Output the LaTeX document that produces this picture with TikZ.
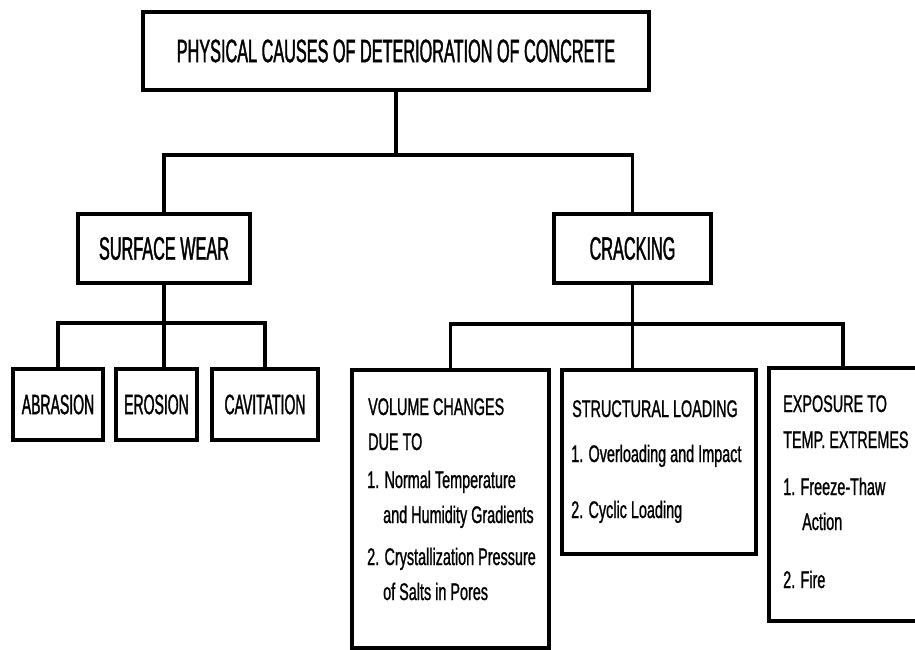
\documentclass[tikz,border=0pt]{standalone}
\usepackage{fontspec}
\setmainfont{Liberation Sans}
\newfontfamily\headfont[FakeStretch=0.5,FakeBold=1.2]{Liberation Sans}
\newfontfamily\smallfont[FakeStretch=0.5,FakeBold=1.2]{Liberation Sans}
\newfontfamily\bodyfont[FakeStretch=0.6,FakeBold=1.0]{Liberation Sans}
\begin{document}
\begin{tikzpicture}[x=1pt,y=-1pt,
  boxst/.style={draw, line width=3.2pt, inner sep=0pt, font=\headfont\fontsize{32.5}{38}\selectfont},
  smallbox/.style={boxst, font=\smallfont\fontsize{28}{33}\selectfont},
  conn/.style={line width=3.2pt},
  txt/.style={anchor=base west, inner sep=0pt, font=\bodyfont\fontsize{24}{29}\selectfont}]
\useasboundingbox (0,0) rectangle (915,649);
% boxes
\node[boxst, minimum width=506pt, minimum height=78pt] (title) at (396,51) {PHYSICAL CAUSES OF DETERIORATION OF CONCRETE};
\node[boxst, minimum width=172pt, minimum height=69pt] (sw) at (164,248.5) {SURFACE WEAR};
\node[boxst, minimum width=157pt, minimum height=69pt] (cr) at (632.5,248.5) {CRACKING};
\node[smallbox, minimum width=90pt, minimum height=71pt] (ab) at (58,404.5) {ABRASION};
\node[smallbox, minimum width=81pt, minimum height=71pt] (er) at (156.5,404.5) {EROSION};
\node[smallbox, minimum width=106pt, minimum height=71pt] (cav) at (265,404.5) {CAVITATION};
\node[boxst, minimum width=197pt, minimum height=278pt] (vol) at (450.5,509) {};
\node[boxst, minimum width=194pt, minimum height=184pt] (st) at (659,462) {};
\node[boxst, minimum width=148pt, minimum height=253pt] (ex) at (843,494.5) {};
% connectors
\coordinate (bus1) at (0,155);
\coordinate (bus2) at (0,323);
\coordinate (bus3) at (0,324);
\draw[conn] (title.south) -- (title.south |- bus1);
\draw[conn] (sw.north) |- (title.south |- bus1) -| (cr.north);
\draw[conn] (sw.south) -- (sw.south |- er.north);
\draw[conn] (ab.north) |- (sw.south |- bus2) -| (cav.north);
\draw[conn] (cr.south) -- (cr.south |- st.north);
\draw[conn] (vol.north) |- (cr.south |- bus3) -| (ex.north);
% texts: volume changes
\node[txt] (v1) at (368,415) {VOLUME CHANGES};
\node[txt] (v2) at (368,450) {DUE TO};
\node[txt] (v3) at (367,488) {1. Normal Temperature};
\node[txt] (v4) at (383,523) {and Humidity Gradients};
\node[txt] (v5) at (367,565) {2. Crystallization Pressure};
\node[txt] (v6) at (383,600) {of Salts in Pores};
% structural loading
\node[txt] (s1) at (572,417) {STRUCTURAL LOADING};
\node[txt] (s2) at (571,462) {1. Overloading and Impact};
\node[txt] (s3) at (571,518) {2. Cyclic Loading};
% exposure
\node[txt] (e1) at (783,412) {EXPOSURE TO};
\node[txt] (e2) at (783,448) {TEMP. EXTREMES};
\node[txt] (e3) at (783,495) {1. Freeze-Thaw};
\node[txt] (e4) at (802,530) {Action};
\node[txt] (e5) at (783,588) {2. Fire};
\end{tikzpicture}
\end{document}
